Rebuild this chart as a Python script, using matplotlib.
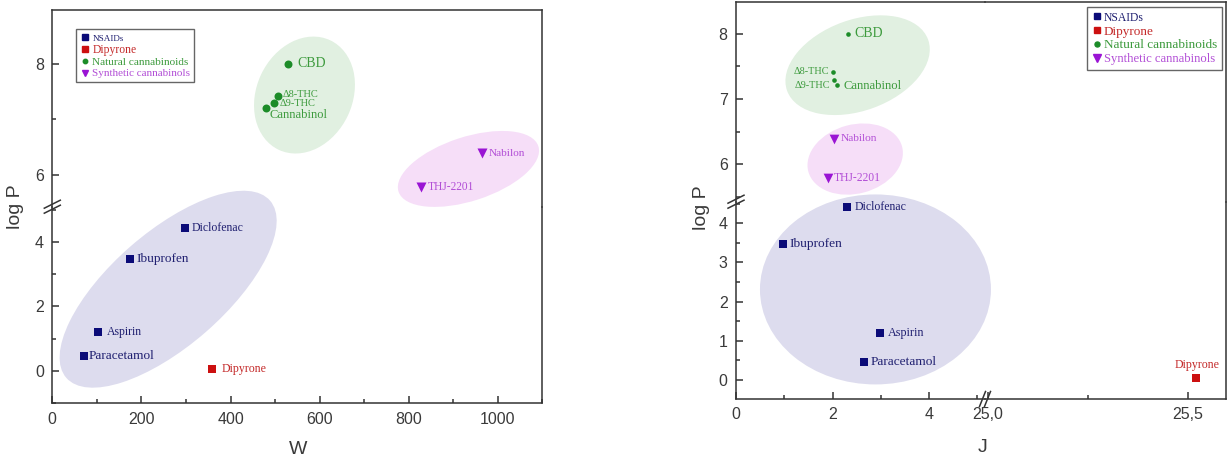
import matplotlib
matplotlib.use("Agg")
import matplotlib.pyplot as plt
from matplotlib.patches import Ellipse
from matplotlib.lines import Line2D
from matplotlib.transforms import ScaledTranslation
from matplotlib.ticker import MultipleLocator, FuncFormatter

# ---------------- data ----------------
nsaid_names = ["Paracetamol", "Aspirin", "Ibuprofen", "Diclofenac"]
nsaid_logP = [0.46, 1.19, 3.48, 4.42]
nsaid_W = [71, 103, 174, 297]
nsaid_J = [2.65, 2.99, 0.98, 2.30]

dip_names = ["Dipyrone"]
dip_logP = [0.04]
dip_W = [359]
dip_J = [25.52]

nat_names = ["CBD", "Δ8-THC", "Δ9-THC", "Cannabinol"]
nat_logP = [8.00, 7.42, 7.29, 7.21]
nat_W = [530, 507, 497, 479]
nat_J = [2.32, 2.00, 2.03, 2.10]

syn_names = ["Nabilon", "THJ-2201"]
syn_logP = [6.39, 5.79]
syn_W = [964, 828]
syn_J = [2.04, 1.90]

legend_labels = ["NSAIDs", "Dipyrone", "Natural cannabinoids", "Synthetic cannabinols"]

# ---------------- style ----------------
DPI, FW, FH = 100, 1229, 462
SERIF = ["Liberation Serif", "DejaVu Serif"]
AXC, TXC = "#333333", "#3a3a3a"
NAVY, NAVY_T = "#0b0b78", "#1f1f70"
RED, RED_T = "#cc1010", "#c42a2a"
GRN, GRN_T = "#1c8c28", "#3c9a3c"
PUR, PUR_T = "#9a14d4", "#b24ed6"
LAV, MINT, PINK = "#dddcee", "#e1f0e1", "#f6def8"
plt.rcParams.update({"font.family": "sans-serif", "font.sans-serif": ["Liberation Sans", "DejaVu Sans"]})

fig = plt.figure(figsize=(FW / DPI, FH / DPI), dpi=DPI)
fig.patch.set_facecolor("white")


def px_box(x0, y0, x1, y1):
    return [x0 / FW, 1 - y1 / FH, (x1 - x0) / FW, (y1 - y0) / FH]


def frame(ax, hide=(), xt=None, yt=None):
    ax.set_facecolor("none")
    for s in ax.spines.values():
        s.set_linewidth(1.1); s.set_color(AXC)
    for s in hide:
        ax.spines[s].set_visible(False)
    ax.tick_params(which="both", direction="in", colors=AXC, labelcolor=TXC, labelsize=11.5, pad=6, width=1.1)
    ax.tick_params(which="major", length=5)
    ax.tick_params(which="minor", length=3)
    if xt:
        ax.xaxis.set_major_locator(MultipleLocator(xt[0])); ax.xaxis.set_minor_locator(MultipleLocator(xt[1]))
    else:
        ax.tick_params(axis="x", which="both", bottom=False, labelbottom=False)
    if yt:
        ax.yaxis.set_major_locator(MultipleLocator(yt[0])); ax.yaxis.set_minor_locator(MultipleLocator(yt[1]))
    else:
        ax.tick_params(axis="y", which="both", left=False, labelleft=False)


def put(ax, xs, ys, names, marker, s, mc, tc, lab):
    ax.scatter(xs, ys, marker=marker, s=s, c=mc, linewidths=0, zorder=3)
    for x, y, n in zip(xs, ys, names):
        dx, dy, ha, fs = lab[n]
        ax.annotate(n, (x, y), xytext=(dx, dy), textcoords="offset points", ha=ha, va="center",
                    fontsize=fs, color=tc, family=SERIF, annotation_clip=True, zorder=4)


def blob(ax, cx, cy, w, h, ang, fc):   # shaded group region, size in pixels, centred on data point
    tr = fig.dpi_scale_trans + ScaledTranslation(cx, cy, ax.transData)
    fig.add_artist(Ellipse((0, 0), w / DPI, h / DPI, angle=ang, transform=tr, fc=fc, ec="none", zorder=-1))


def slash(ax, fx, fy, dx, dy, sep, horiz=False):   # "//" break mark at axes fraction (fx, fy)
    tr = fig.dpi_scale_trans + ScaledTranslation(fx, fy, ax.transAxes)
    for k in (-0.5, 0.5):
        ox, oy = (k * sep / DPI, 0) if horiz else (0, k * sep / DPI)
        fig.add_artist(Line2D([ox - dx / 2 / DPI, ox + dx / 2 / DPI], [oy - dy / 2 / DPI, oy + dy / 2 / DPI],
                              transform=tr, color=AXC, lw=1.1, zorder=5))


def legend(ax, loc, anchor, sizes, ms, fs, hl, tp):
    hs = [Line2D([], [], ls="none", marker="s", color=NAVY, ms=ms[0]),
          Line2D([], [], ls="none", marker="s", color=RED, ms=ms[1]),
          Line2D([], [], ls="none", marker="o", color=GRN, ms=ms[2]),
          Line2D([], [], ls="none", marker="v", color=PUR, ms=ms[3])]
    lg = ax.legend(hs, legend_labels, loc=loc, bbox_to_anchor=anchor, borderaxespad=0, fancybox=False,
                   edgecolor="#666666", framealpha=1, prop={"family": SERIF, "size": fs}, handlelength=hl,
                   handletextpad=tp, labelspacing=0.12, borderpad=0.35,
                   labelcolor=[NAVY_T, RED_T, GRN_T, PUR_T])
    lg.get_frame().set_linewidth(1.0)
    for t, z in zip(lg.get_texts(), sizes):
        t.set_fontsize(z)


# ================= panel A : log P vs W =================
aU = fig.add_axes(px_box(52.3, 9.5, 542.4, 206.7))
aL = fig.add_axes(px_box(52.3, 206.7, 542.4, 403.3))
for a in (aU, aL):
    a.set_xlim(0, 1100)
aU.set_ylim(5.43, 8.98); aL.set_ylim(-1.01, 5.09)
frame(aU, hide=("bottom",), yt=(2, 1))
frame(aL, hide=("top",), xt=(200, 100), yt=(2, 1))

labA = {"Paracetamol": (3.3, 0, "left", 9.5), "Aspirin": (6, 0, "left", 8.5), "Ibuprofen": (5, 0, "left", 9.5),
        "Diclofenac": (5, 0, "left", 8.5), "Dipyrone": (6.5, 0, "left", 8.6), "CBD": (6.5, 0, "left", 10),
        "Δ8-THC": (3, 1.2, "left", 7.5), "Δ9-THC": (4, 0, "left", 7.5), "Cannabinol": (3, -5.5, "left", 9),
        "Nabilon": (4.7, 0, "left", 8.1), "THJ-2201": (4.7, 0, "left", 8.3)}
for a in (aU, aL):
    put(a, nsaid_W, nsaid_logP, nsaid_names, "s", 37, NAVY, NAVY_T, labA)
    put(a, dip_W, dip_logP, dip_names, "s", 37, RED, RED_T, labA)
    put(a, nat_W, nat_logP, nat_names, "o", 33, GRN, GRN_T, labA)
    put(a, syn_W, syn_logP, syn_names, "v", 52, PUR, PUR_T, labA)

blob(aU, 566, 7.44, 121, 96, 65, MINT)
blob(aU, 934, 6.11, 147, 64, 18, PINK)
blob(aL, 260, 2.53, 270, 114, 41, LAV)
slash(aL, 0, 1, 16, 8, 5)
legend(aU, "upper left", (0.048, 0.90), [6.6, 8.4, 8.1, 8.0], [4.2, 4.2, 3.2, 4.8], 8, 0.9, 0.25)

fig.text(15 / FW, 1 - 207 / FH, "log P", rotation=90, ha="center", va="center", fontsize=14, color=TXC)
fig.text(298 / FW, 1 - 449 / FH, "W", ha="center", va="center", fontsize=14, color=TXC)

# ================= panel B : log P vs J (broken x and y) =================
bUL = fig.add_axes(px_box(736, 1.7, 985, 201.7))
bUR = fig.add_axes(px_box(985, 1.7, 1226, 201.7))
bLL = fig.add_axes(px_box(736, 201.7, 985, 399))
bLR = fig.add_axes(px_box(985, 201.7, 1226, 399))
for a in (bUL, bLL):
    a.set_xlim(0, 5.16)
for a in (bUR, bLR):
    a.set_xlim(24.9925, 25.595)
for a in (bUL, bUR):
    a.set_ylim(5.426, 8.494)
for a in (bLL, bLR):
    a.set_ylim(-0.485, 4.548)
frame(bUL, hide=("bottom", "right"), yt=(1, 0.5))
frame(bUR, hide=("bottom", "left"))
frame(bLL, hide=("top", "right"), xt=(2, 1), yt=(1, 0.5))
frame(bLR, hide=("top", "left"), xt=(0.5, 0.25))
bLR.xaxis.set_major_formatter(FuncFormatter(lambda v, p: f"{v:.1f}".replace(".", ",")))

labB = {"Paracetamol": (4.5, 0, "left", 9.6), "Aspirin": (5.6, 0, "left", 8.7), "Ibuprofen": (4.5, 0, "left", 9.6),
        "Diclofenac": (5.4, 0, "left", 8.5), "Dipyrone": (0.7, 10, "center", 8.6), "CBD": (4.8, 0, "left", 10),
        "Δ8-THC": (-2.2, 0, "right", 7.4), "Δ9-THC": (-3, -3.6, "right", 7.4), "Cannabinol": (4.3, -0.7, "left", 9.1),
        "Nabilon": (4.8, 0, "left", 8.2), "THJ-2201": (4.5, 0, "left", 8.4)}
for a in (bUL, bUR, bLL, bLR):
    put(a, nsaid_J, nsaid_logP, nsaid_names, "s", 35, NAVY, NAVY_T, labB)
    put(a, dip_J, dip_logP, dip_names, "s", 35, RED, RED_T, labB)
    put(a, nat_J, nat_logP, nat_names, "o", 11, GRN, GRN_T, labB)
    put(a, syn_J, syn_logP, syn_names, "v", 49, PUR, PUR_T, labB)

blob(bUL, 2.52, 7.52, 150, 91, 20, MINT)
blob(bUL, 2.47, 6.08, 97, 69, 15, PINK)
blob(bLL, 2.89, 2.31, 231, 190, 0, LAV)
slash(bLL, 0, 1, 16, 8, 5)
slash(bLL, 1, 0, 6, 15, 5, horiz=True)
legend(bUR, "upper right", (0.983, 0.9735), [8.4, 9.5, 9.5, 9.1], [4.8, 4.8, 3.6, 6.3], 9.5, 0.8, 0.15)

fig.text(701 / FW, 1 - 208 / FH, "log P", rotation=90, ha="center", va="center", fontsize=14, color=TXC)
fig.text(983 / FW, 1 - 448 / FH, "J", ha="center", va="center", fontsize=14, color=TXC)

fig.savefig("out.png", dpi=DPI, facecolor="white")
